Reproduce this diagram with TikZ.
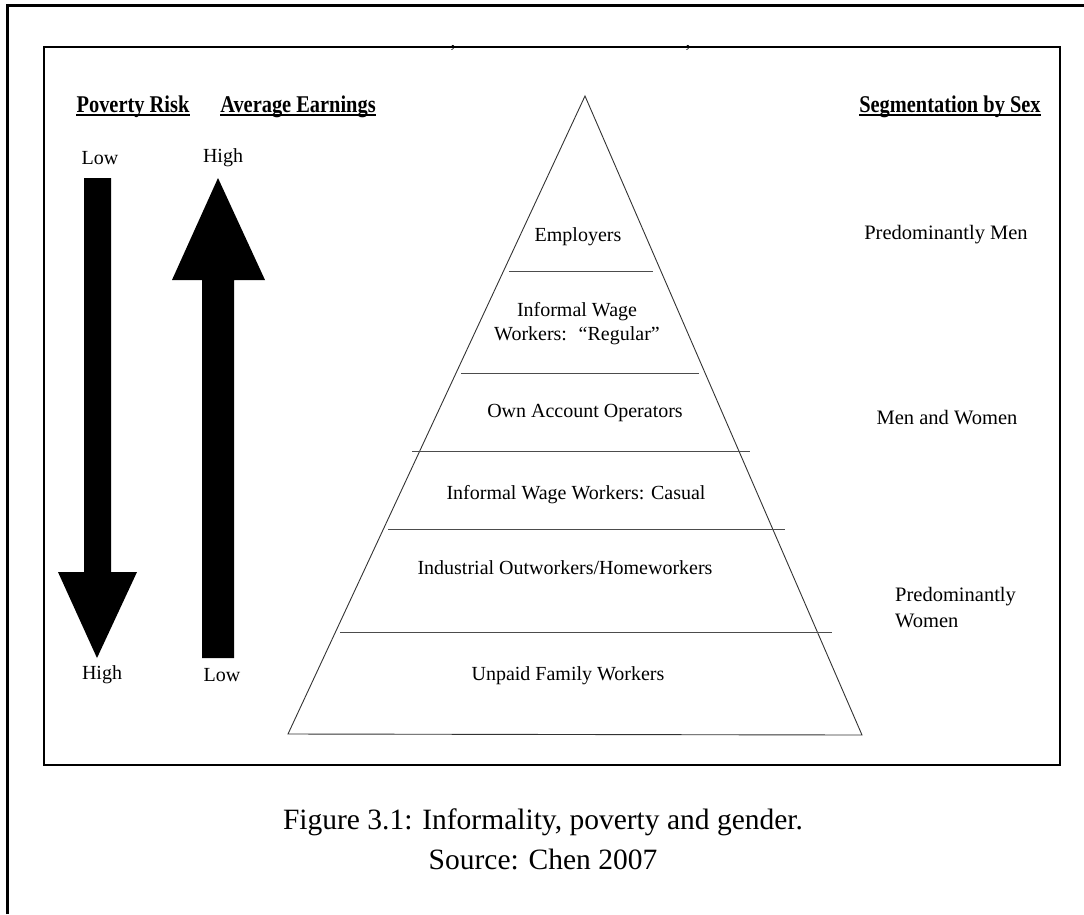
\documentclass[tikz,border=0pt]{standalone}
\usepackage{fontspec}
\setmainfont{Liberation Serif}
\newfontfamily\headfont[FakeStretch=0.85]{Liberation Serif}
\begin{document}
\begin{tikzpicture}[x=1pt, y=-1pt,
        tier/.style={font=\fontsize{20}{24}\selectfont, align=center},
        sexlabel/.style={font=\fontsize{20.5}{26}\selectfont},
        headlabel/.style={font=\headfont\bfseries\fontsize{24}{28}\selectfont, inner sep=0pt, anchor=base},
        underl/.style={line width=1.4pt},
        divider/.style={draw=black!70, line width=0.9pt},
        outline/.style={draw=black!80, line width=0.9pt},
        blockarrow/.style={fill=black},
        caption/.style={font=\fontsize{29.5}{34}\selectfont}]
    \useasboundingbox (0,0) rectangle (1084,914);
    % frames
    \draw[line width=3pt] (7,914) -- (7,5) -- (1084,5);
    \draw[line width=1.6pt] (44,47) rectangle (1060,765);
    \node[tier, anchor=base, inner sep=0pt] (commaA) at (453,47) {,};
    \node[tier, anchor=base, inner sep=0pt] (commaB) at (688,47) {,};
    % headings
    \node[headlabel] (povhead) at (133,112) {Poverty Risk};
    \node[headlabel] (earnhead) at (298,112) {Average Earnings};
    \node[headlabel] (sexhead) at (950,112) {Segmentation by Sex};
    \foreach \h in {povhead, earnhead, sexhead}
        \draw[underl] ([yshift=-3pt]\h.base west) -- ([yshift=-3pt]\h.base east);
    % block arrows
    \fill[blockarrow] (84,178) -- (111,178) -- (111,572) -- (137,572) -- (97,658)
        -- (58,572) -- (84,572) -- cycle;
    \fill[blockarrow] (218,178) -- (265,280) -- (234,280) -- (234,658) -- (202,658)
        -- (202,280) -- (172,280) -- cycle;
    \node[tier] (povlow) at (100,158) {Low};
    \node[tier] (povhigh) at (102,675) {High};
    \node[tier] (earnhigh) at (223,158) {High};
    \node[tier] (earnlow) at (222,675) {Low};
    % pyramid
    \coordinate (apex) at (585,96);
    \coordinate (baseL) at (288,734);
    \coordinate (baseR) at (862,735);
    \draw[outline] (apex) -- (baseR) -- (baseL) -- cycle;
    \foreach \yy/\xl/\xr in {271/509/653, 373/461/699, 451/412/750, 529/388/785, 632/340/832}
        \draw[divider] (\xl,\yy) -- (\xr,\yy);
    \node[tier] (employers) at (578,237) {Employers};
    \node[tier] (regular) at (577,324) {Informal Wage\\Workers:~ “Regular”};
    \node[tier] (ownacc) at (585,413) {Own Account Operators};
    \node[tier] (casual) at (576,495) {Informal Wage Workers: Casual};
    \node[tier] (outwork) at (565,568) {Industrial Outworkers/Homeworkers};
    \node[tier] (unpaid) at (568,676) {Unpaid Family Workers};
    % segmentation
    \node[sexlabel] (menonly) at (946,235) {Predominantly Men};
    \node[sexlabel] (mixed) at (947,418) {Men and Women};
    \node[sexlabel, align=left, anchor=west, inner sep=0pt] (womenonly) at (895,608) {Predominantly\\Women};
    % caption
    \node[caption] (capfig) at (543,822) {Figure 3.1: Informality, poverty and gender.};
    \node[caption] (capsrc) at (543,859) {Source: Chen 2007};
\end{tikzpicture}
\end{document}
